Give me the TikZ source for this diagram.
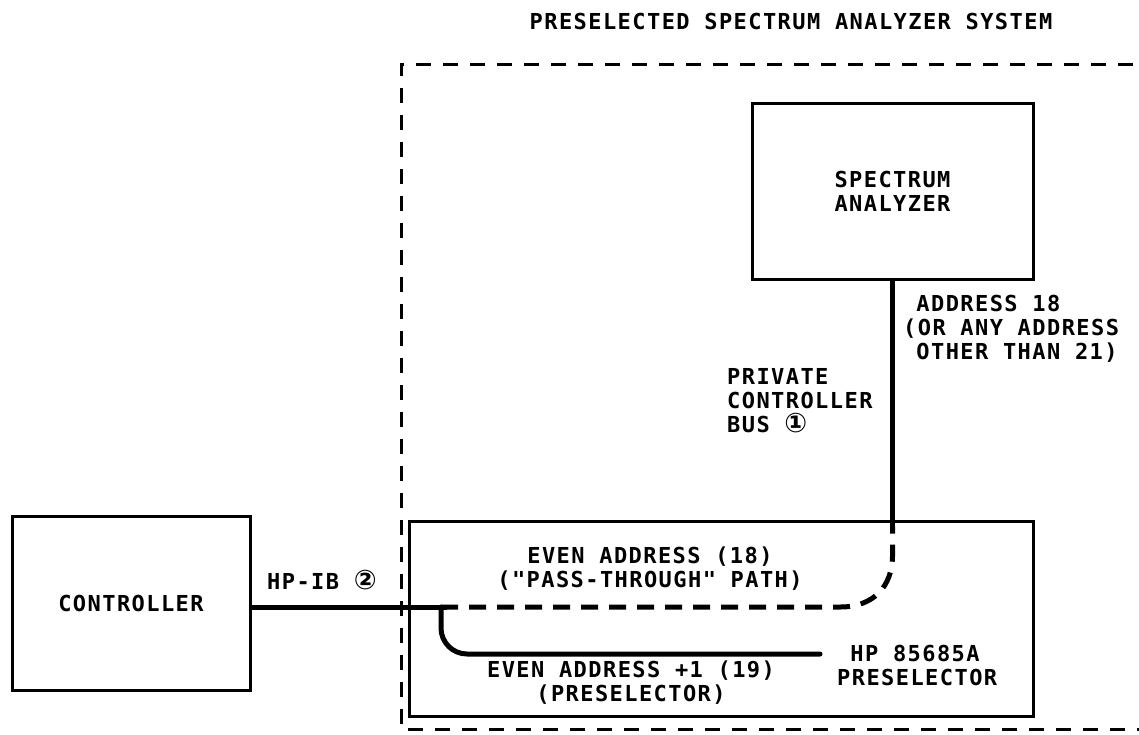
\documentclass[tikz,border=0pt]{standalone}
\usepackage{fontspec}
\newfontfamily\lbl{DejaVu Sans Mono Bold}[LetterSpace=6.5]
\newfontfamily\sym{DejaVu Sans Bold}
\newcommand{\circnum}[1]{{\sym\fontsize{27}{24}\selectfont #1}}
\begin{document}
\begin{tikzpicture}[x=1pt,y=-1pt,
  txt/.style={font=\lbl\fontsize{22}{24}\selectfont, inner sep=0pt},
  box/.style={draw, line width=3pt, inner sep=0pt},
  bus/.style={line width=5pt},
  busdash/.style={line width=5pt, dash pattern=on 17pt off 11pt},
  outline/.style={line width=3pt, dash pattern=on 15pt off 12pt}]
\useasboundingbox (0,0) rectangle (1139,734);

% outer dashed frame (open to the right)
\draw[outline] (1160,64) -- (401,64) -- (401,729) -- (1160,729);

% boxes
\node[box, txt, minimum width=238pt, minimum height=174pt] (ctrl) at (131,603) {CONTROLLER};
\node[box, txt, align=center, minimum width=281pt, minimum height=176pt] (spec) at (892.5,191) {SPECTRUM\\ANALYZER};
\node[box, minimum width=624pt, minimum height=195pt] (pres) at (721,618.5) {};

% coordinates
\coordinate (j) at (441,607);
\coordinate (k) at ([yshift=-7pt]spec.south |- pres.north);
\coordinate (c1) at (840,607);
\coordinate (c2) at ([yshift=-30pt]k);
\coordinate (pe) at (820,654);

% connectors
\draw[bus, line cap=round] (ctrl.east |- j) -- ([xshift=5pt]j);
\draw[bus] (spec.south) -- (k);
\draw[busdash] (j) -- (c1) .. controls (874,607) and (892,586) .. (c2) -- (k);
\draw[bus, line cap=round, rounded corners=26pt] (j) |- (pe);

% labels
\node[txt] (title) at (791,21) {PRESELECTED SPECTRUM ANALYZER SYSTEM};
\node[txt, anchor=west] (hpib) at (267,580) {HP-IB \circnum{②}};
\node[txt, anchor=west, align=left] (priv) at (727,401) {PRIVATE\\CONTROLLER\\BUS \circnum{①}};
\node[txt, anchor=west, align=left] (addr) at (903,329) {\phantom{(}ADDRESS 18\\(OR ANY ADDRESS\\\phantom{(}OTHER THAN 21)};
\node[txt, align=center] (even) at (650,569) {EVEN ADDRESS (18)\\("PASS-THROUGH" PATH)};
\node[txt, align=center] (odd) at (631,683) {EVEN ADDRESS +1 (19)\\(PRESELECTOR)};
\node[txt, anchor=west, align=left] (hp) at (837,665) {\phantom{H}HP 85685A\\PRESELECTOR};
\end{tikzpicture}
\end{document}
